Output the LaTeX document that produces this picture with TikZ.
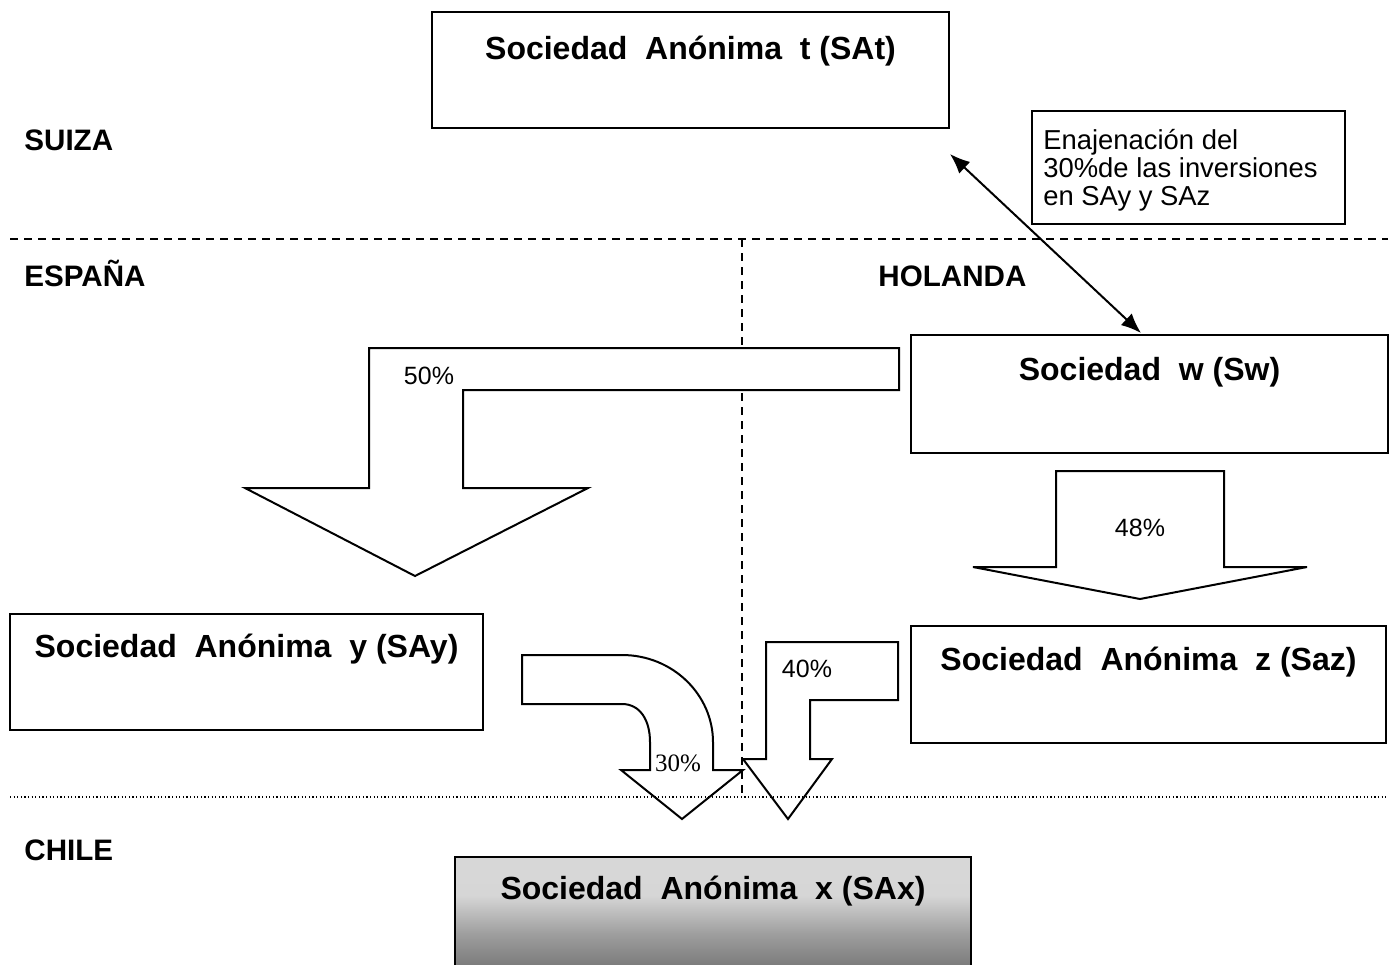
\documentclass[tikz,border=0pt]{standalone}
\usepackage{fontspec}
\setmainfont{Liberation Sans}
\newfontfamily\seriffont{Liberation Serif}
\usetikzlibrary{arrows.meta,positioning,fit,calc}

\pgfdeclareverticalshading{saxshade}{100bp}{color(0bp)=(black!60); color(25bp)=(black!60); color(45bp)=(black!38); color(60bp)=(black!16); color(100bp)=(black!15)}

\begin{document}
\begin{tikzpicture}[
    x=0.5pt, y=-0.5pt,
    orgbox/.style={rectangle, draw=black, line width=0.8pt, inner sep=0pt},
    titletext/.style={font=\fontsize{16}{19}\selectfont\bfseries, inner sep=0pt},
    country/.style={font=\fontsize{14.8}{17}\selectfont\bfseries, anchor=base west, inner sep=0pt},
    pctlabel/.style={font=\fontsize{12.5}{15}\selectfont, inner sep=0pt},
    blockarrow/.style={draw=black, line width=1pt, fill=white, line join=miter},
    border/.style={line width=0.8pt, dash pattern=on 4pt off 3pt},
    chileborder/.style={line width=0.8pt, dash pattern=on 0.6pt off 1.2pt},
    sellarrow/.style={line width=1pt, {Latex[length=10pt,width=8pt]}-{Latex[length=10pt,width=8pt]}}
]
\useasboundingbox (0,0) rectangle (1394,965);

% Borders between countries
\draw[border] (10,239) -- (1388,239);
\draw[border] (742,239) -- (742,797);

% Country names
\node[country] (suiza) at (24,150) {SUIZA};
\node[country] (espana) at (24,286) {ESPAÑA};
\node[country] (holanda) at (878,286) {HOLANDA};
\node[country] (chile) at (24,860) {CHILE};

% Companies
\node[orgbox, fit={(432,12) (949,128)}] (sat) {};
\node[titletext] (satTitle) at ([yshift=-20pt]sat.north) {Sociedad\ \ Anónima\ \ t (SAt)};

\node[orgbox, fit={(911,335) (1388,453)}] (sw) {};
\node[titletext] (swTitle) at ([yshift=-19pt]sw.north) {Sociedad\ \ w (Sw)};

\node[orgbox, fit={(10,614) (483,730)}] (say) {};
\node[titletext] (sayTitle) at ([yshift=-18pt]say.north) {Sociedad\ \ Anónima\ \ y (SAy)};

\node[orgbox, fit={(911,626) (1386,743)}] (saz) {};
\node[titletext] (sazTitle) at ([yshift=-18.5pt]saz.north) {Sociedad\ \ Anónima\ \ z (Saz)};

\node[orgbox, shading=saxshade, fit={(455,857) (971,985)}] (sax) {};
\node[titletext] (saxTitle) at ([yshift=-17.5pt]sax.north) {Sociedad\ \ Anónima\ \ x (SAx)};

% Sale of the holdings
\node[orgbox, fit={(1032,111) (1345,224)}] (sale) {};
\node[anchor=west, align=left, inner sep=0pt, font=\fontsize{13.7}{14}\selectfont] (saleText) at (1043,170)
    {Enajenación del\\30\%de las inversiones\\en SAy y SAz};
\coordinate (sellTop) at (950,154);
\coordinate (sellBottom) at (1141,333);
\draw[sellarrow] (sellTop) -- (sellBottom);

% Block arrows
\draw[blockarrow] (369,348) -- (899,348) -- (899,390) -- (463,390) -- (463,488) -- (588,488)
    -- (415,576) -- (245,488) -- (369,488) -- cycle;
\node[pctlabel] (p50) at (429,376) {50\%};

\draw[blockarrow] (1056,471) -- (1224,471) -- (1224,567) -- (1307,567) -- (1140,599)
    -- (973,567) -- (1056,567) -- cycle;
\node[pctlabel] (p48) at (1140,528) {48\%};

\draw[blockarrow] (766,642) -- (898,642) -- (898,700) -- (810,700) -- (810,759) -- (832,759)
    -- (788,819) -- (743,759) -- (766,759) -- cycle;
\node[pctlabel] (p40) at (807,669) {40\%};

\draw[blockarrow] (522,655) -- (622,655) .. controls (673,655) and (713,695) .. (713,742)
    -- (713,770) -- (743,770) -- (682,819) -- (621,770) -- (650,770) -- (650,742)
    .. controls (650,720) and (640,704) .. (622,704) -- (522,704) -- cycle;
\node[pctlabel, font=\seriffont\fontsize{12.5}{15}\selectfont] (p30) at (678,763) {30\%};

% Border with Chile
\draw[chileborder] (10,797) -- (1388,797);

\end{tikzpicture}
\end{document}
